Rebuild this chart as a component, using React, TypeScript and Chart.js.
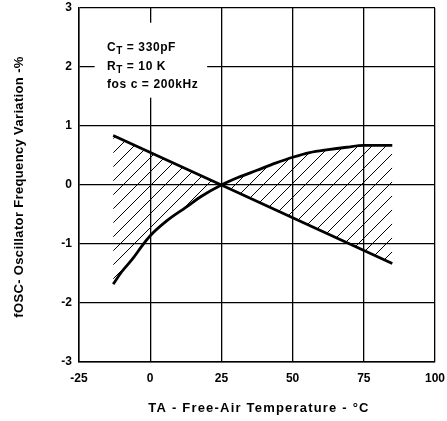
import React, { useEffect, useRef } from "react";
import { Chart, registerables } from "chart.js";

Chart.register(...registerables);

// Straight (decreasing) boundary
const tempDecreasing = [-13, 25, 85];
const varDecreasing = [0.84, 0, -1.33];

// Curved (rising) boundary
const tempRising = [-13, -10, -6, -3, 0, 6, 12.5, 18, 25, 31, 37.5, 44, 50, 56, 62.5, 69, 75, 85];
const varRising = [-1.68, -1.47, -1.24, -1.04, -0.86, -0.6, -0.38, -0.19, 0, 0.13, 0.25, 0.37, 0.47, 0.55, 0.6, 0.64, 0.67, 0.67];

const xTicks = [-25, 0, 25, 50, 75, 100];
const yTicks = [-3, -2, -1, 0, 1, 2, 3];

const xTitle = "TA - Free-Air Temperature - °C";
const yTitle = "fOSC- Oscillator Frequency Variation -%";

// [main, subscript, rest]
const noteLines: [string, string, string][] = [
  ["C", "T", " = 330pF"],
  ["R", "T", " = 10 K"],
  ["fos c = 200kHz", "", ""],
];
const noteValues = [2.32, 2.0, 1.7];

const FONT = "'Liberation Sans', Arial, sans-serif";

function makeHatch(): CanvasPattern | string {
  const s = 14;
  const pc = document.createElement("canvas");
  pc.width = s;
  pc.height = s;
  const g = pc.getContext("2d");
  if (!g) return "rgba(0,0,0,0.2)";
  g.fillStyle = "#000";
  for (let i = 0; i < s; i++) {
    g.fillRect(i, s - 1 - i, 1, 1);
  }
  const p = g.createPattern(pc, "repeat");
  return p || "rgba(0,0,0,0.2)";
}

const notePlugin = {
  id: "noteBox",
  beforeDatasetsDraw(chart: any) {
    const { ctx, scales } = chart;
    const xs = scales.x;
    const ys = scales.y;
    const x0 = xs.getPixelForValue(-19.5);
    const x1 = xs.getPixelForValue(20);
    const y0 = ys.getPixelForValue(2.75);
    const y1 = ys.getPixelForValue(1.48);
    ctx.save();
    ctx.fillStyle = "#fff";
    ctx.fillRect(x0, y0, x1 - x0, y1 - y0);
    ctx.fillStyle = "#000";
    ctx.textBaseline = "middle";
    ctx.textAlign = "left";
    (ctx as any).letterSpacing = "0.6px";
    const tx = xs.getPixelForValue(-15.2);
    noteLines.forEach((parts, i) => {
      const ty = ys.getPixelForValue(noteValues[i]);
      let cx = tx;
      ctx.font = `bold 12px ${FONT}`;
      ctx.fillText(parts[0], cx, ty);
      cx += ctx.measureText(parts[0]).width;
      if (parts[1]) {
        ctx.font = `bold 10px ${FONT}`;
        ctx.fillText(parts[1], cx, ty + 3);
        cx += ctx.measureText(parts[1]).width;
      }
      if (parts[2]) {
        ctx.font = `bold 12px ${FONT}`;
        ctx.fillText(parts[2], cx, ty);
      }
    });
    ctx.restore();
  },
  afterDraw(chart: any) {
    const { ctx, chartArea } = chart;
    ctx.save();
    ctx.fillStyle = "#000";
    ctx.textAlign = "center";
    ctx.textBaseline = "middle";
    ctx.font = `bold 13px ${FONT}`;
    (ctx as any).letterSpacing = "1.2px";
    ctx.fillText(xTitle, (chartArea.left + chartArea.right) / 2 + 2, 408);
    (ctx as any).letterSpacing = "0.35px";
    ctx.translate(19, (chartArea.top + chartArea.bottom) / 2 + 2);
    ctx.rotate(-Math.PI / 2);
    ctx.fillText(yTitle, 0, 0);
    ctx.restore();
  },
};

export default function App() {
  const ref = useRef<HTMLCanvasElement | null>(null);

  useEffect(() => {
    if (!ref.current) return;
    const hatch = makeHatch();
    const chart = new Chart(ref.current, {
      type: "line",
      data: {
        datasets: [
          {
            label: "decreasing",
            data: tempDecreasing.map((t, i) => ({ x: t, y: varDecreasing[i] })),
            borderColor: "#000",
            borderWidth: 2.8,
            pointRadius: 0,
            fill: false,
          },
          {
            label: "rising",
            data: tempRising.map((t, i) => ({ x: t, y: varRising[i] })),
            borderColor: "#000",
            borderWidth: 2.8,
            pointRadius: 0,
            cubicInterpolationMode: "monotone",
            fill: { target: 0 },
            backgroundColor: hatch as any,
          },
        ],
      },
      options: {
        animation: false,
        responsive: true,
        maintainAspectRatio: false,
        layout: { padding: 0 },
        plugins: {
          legend: { display: false },
          tooltip: { enabled: false },
        },
        scales: {
          x: {
            type: "linear",
            min: -25,
            max: 100,
            afterBuildTicks: (s: any) => {
              s.ticks = xTicks.map((v) => ({ value: v }));
            },
            afterFit: (s: any) => {
              s.height = 59;
              s.paddingLeft = 0;
              s.paddingRight = 12;
              s.paddingTop = 0;
              s.paddingBottom = 0;
            },
            grid: { color: "#000", lineWidth: 1.3, drawTicks: false },
            border: { color: "#000", width: 1.5 },
            ticks: {
              color: "#000",
              padding: 9,
              minRotation: 0,
              maxRotation: 0,
              font: { family: FONT, size: 12, weight: "bold" },
            },
            title: { display: false },
          },
          y: {
            type: "linear",
            min: -3,
            max: 3,
            afterBuildTicks: (s: any) => {
              s.ticks = yTicks.map((v) => ({ value: v }));
            },
            afterFit: (s: any) => {
              s.width = 79;
              s.paddingTop = 8;
              s.paddingBottom = 0;
              s.paddingLeft = 0;
              s.paddingRight = 0;
            },
            grid: { color: "#000", lineWidth: 1.3, drawTicks: false },
            border: { color: "#000", width: 1.5 },
            ticks: {
              color: "#000",
              padding: 7,
              minRotation: 0,
              maxRotation: 0,
              font: { family: FONT, size: 12, weight: "bold" },
            },
            title: { display: false },
          },
        },
      },
      plugins: [notePlugin],
    });
    return () => chart.destroy();
  }, []);

  return (
    <div style={{ position: "fixed", left: 0, top: 0, width: 447, height: 421, background: "#fff" }}>
      <canvas ref={ref} />
    </div>
  );
}
